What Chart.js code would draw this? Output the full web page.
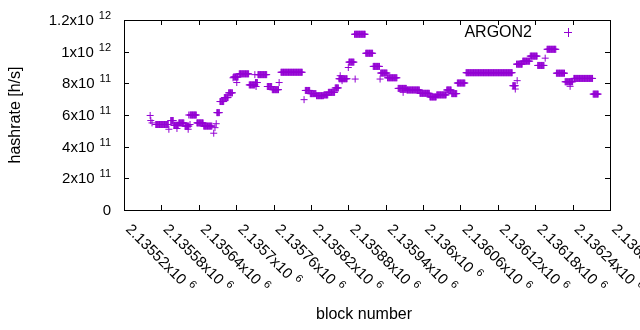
<!DOCTYPE html>
<html>
<head>
<meta charset="utf-8">
<script src="https://cdn.jsdelivr.net/npm/chart.js@4/dist/chart.umd.min.js"></script>
<style>
  html, body { margin: 0; padding: 0; background: #fff; }
  #wrap { width: 640px; height: 330px; }
</style>
</head>
<body>
<div id="wrap"><canvas id="hashChart" width="640" height="330"></canvas></div>
<script>
/* Axis ticks (labels use ^ for the exponent) */
const xTickValues = [2135520, 2135580, 2135640, 2135700, 2135760, 2135820, 2135880,
    2135940, 2136000, 2136060, 2136120, 2136180, 2136240, 2136300];
const xTickLabels = ["2.13552x10^6", "2.13558x10^6", "2.13564x10^6", "2.1357x10^6",
    "2.13576x10^6", "2.13582x10^6", "2.13588x10^6", "2.13594x10^6", "2.136x10^6",
    "2.13606x10^6", "2.13612x10^6", "2.13618x10^6", "2.13624x10^6", "2.1363x10^6"];
const yTickValues = [0, 2e11, 4e11, 6e11, 8e11, 1e12, 1.2e12];
const yTickLabels = ["0", "2x10^11", "4x10^11", "6x10^11", "8x10^11", "1x10^12", "1.2x10^12"];

const runFrom = [2135562, 2135563, 2135565, 2135571, 2135592, 2135595, 2135600, 2135605,
    2135608, 2135618, 2135623, 2135624, 2135626, 2135626, 2135637, 2135648, 2135664,
    2135666, 2135668, 2135669, 2135674, 2135681, 2135688, 2135695, 2135696, 2135701,
    2135705, 2135721, 2135730, 2135731, 2135732, 2135735, 2135750, 2135758, 2135769,
    2135772, 2135809, 2135811, 2135819, 2135829, 2135841, 2135848, 2135859, 2135865,
    2135867, 2135870, 2135880, 2135881, 2135891, 2135890, 2135908, 2135920, 2135931,
    2135932, 2135943, 2135960, 2135968, 2135974, 2135995, 2136011, 2136022, 2136038,
    2136046, 2136055, 2136069, 2136144, 2136148, 2136151, 2136150, 2136160, 2136172,
    2136184, 2136196, 2136199, 2136214, 2136228, 2136236, 2136242, 2136273];
const runTo = [2135562, 2135563, 2135565, 2135591, 2135592, 2135599, 2135607, 2135605,
    2135616, 2135624, 2135623, 2135624, 2135636, 2135626, 2135647, 2135661, 2135664,
    2135666, 2135668, 2135673, 2135680, 2135687, 2135694, 2135695, 2135703, 2135701,
    2135720, 2135730, 2135730, 2135734, 2135732, 2135749, 2135757, 2135768, 2135769,
    2135806, 2135809, 2135818, 2135828, 2135840, 2135847, 2135858, 2135864, 2135878,
    2135867, 2135870, 2135880, 2135889, 2135891, 2135907, 2135919, 2135930, 2135931,
    2135942, 2135958, 2135973, 2135968, 2135994, 2136010, 2136021, 2136037, 2136045,
    2136054, 2136067, 2136143, 2136148, 2136148, 2136151, 2136159, 2136171, 2136183,
    2136194, 2136196, 2136213, 2136227, 2136240, 2136236, 2136272, 2136281];
const runRate = [5.97e11, 5.65e11, 5.5e11, 5.4e11, 5.1e11, 5.65e11, 5.35e11, 5.15e11,
    5.5e11, 5.3e11, 5.1e11, 6.0e11, 6.0e11, 5.4e11, 5.5e11, 5.3e11, 4.85e11,
    5.2e11, 5.45e11, 6.15e11, 6.85e11, 7.1e11, 7.4e11, 8.35e11, 8.4e11, 8.05e11,
    8.6e11, 7.9e11, 8.55e11, 8.05e11, 7.8e11, 8.55e11, 7.8e11, 7.6e11, 8.05e11,
    8.7e11, 6.97e11, 7.55e11, 7.35e11, 7.22e11, 7.27e11, 7.43e11, 7.71e11, 8.29e11,
    8.48e11, 8.17e11, 9.0e11, 9.34e11, 8.27e11, 11.1e11, 9.9e11, 9.07e11, 8.27e11,
    8.65e11, 8.35e11, 7.68e11, 7.43e11, 7.58e11, 7.37e11, 7.14e11, 7.27e11, 7.58e11,
    7.35e11, 8.02e11, 8.67e11, 7.85e11, 7.64e11, 8.17e11, 9.21e11, 9.4e11, 9.72e11,
    9.13e11, 9.59e11, 10.15e11, 8.64e11, 8.1e11, 7.81e11, 8.31e11, 7.32e11];

const seriesName = "ARGON2";
const purple = "#9400d3";
const fontFamily = "'Liberation Sans', Arial, sans-serif";

// one point per block
const points = [];
for (let i = 0; i < runFrom.length; i++) {
    for (let b = runFrom[i]; b <= runTo[i]; b++) {
        points.push({ x: b, y: runRate[i] });
    }
}

/* draw "base^exp" text; (x, y) is baseline start, or baseline end when alignRight */
function drawPowerText(ctx, label, x, y, alignRight) {
    const parts = label.split("^");
    const baseFont = "15px " + fontFamily;
    const supFont = "11px " + fontFamily;
    ctx.font = baseFont;
    const baseW = ctx.measureText(parts[0]).width;
    let supW = 0;
    const gap = parts.length > 1 ? 5 : 0;
    if (parts.length > 1) {
        ctx.font = supFont;
        supW = ctx.measureText(parts[1]).width;
    }
    const startX = alignRight ? x - baseW - gap - supW : x;
    ctx.textAlign = "left";
    ctx.textBaseline = "alphabetic";
    ctx.font = baseFont;
    ctx.fillText(parts[0], startX, y);
    if (parts.length > 1) {
        ctx.font = supFont;
        ctx.fillText(parts[1], startX + baseW + gap, y - 6);
    }
}

/* gnuplot-like frame, inward mirrored ticks, tick labels, titles, key */
const framePlugin = {
    id: "frame",
    afterDraw(chart) {
        const ctx = chart.ctx;
        const area = chart.chartArea;
        const xs = chart.scales.x;
        const ys = chart.scales.y;
        const tl = 5;
        ctx.save();
        ctx.strokeStyle = "#000";
        ctx.lineWidth = 1;
        ctx.strokeRect(Math.round(area.left) + 0.5, Math.round(area.top) + 0.5,
            Math.round(area.right - area.left), Math.round(area.bottom - area.top));

        ctx.beginPath();
        xTickValues.forEach(v => {
            const px = Math.round(xs.getPixelForValue(v)) + 0.5;
            ctx.moveTo(px, area.bottom);
            ctx.lineTo(px, area.bottom - tl);
            ctx.moveTo(px, area.top);
            ctx.lineTo(px, area.top + tl);
        });
        yTickValues.forEach(v => {
            const py = Math.round(ys.getPixelForValue(v)) + 0.5;
            ctx.moveTo(area.left, py);
            ctx.lineTo(area.left + tl, py);
            ctx.moveTo(area.right, py);
            ctx.lineTo(area.right - tl, py);
        });
        ctx.stroke();

        ctx.fillStyle = "#000";
        yTickValues.forEach((v, i) => {
            const py = ys.getPixelForValue(v);
            drawPowerText(ctx, yTickLabels[i], 111, py + 5, true);
        });
        xTickValues.forEach((v, i) => {
            const px = xs.getPixelForValue(v);
            ctx.save();
            ctx.translate(px + 1, 230);
            ctx.rotate(Math.PI / 4);
            drawPowerText(ctx, xTickLabels[i], 0, 0, false);
            ctx.restore();
        });

        // axis titles
        ctx.font = "16px " + fontFamily;
        ctx.textAlign = "center";
        ctx.textBaseline = "middle";
        ctx.fillText("block number", 364, 315);
        ctx.save();
        ctx.translate(16, 115);
        ctx.rotate(-Math.PI / 2);
        ctx.fillText("hashrate [h/s]", 0, 0);
        ctx.restore();

        // key
        ctx.font = "16px " + fontFamily;
        ctx.textAlign = "right";
        ctx.textBaseline = "alphabetic";
        ctx.fillText(seriesName, 532, 37);
        ctx.strokeStyle = purple;
        ctx.beginPath();
        ctx.moveTo(564, 32.5);
        ctx.lineTo(572, 32.5);
        ctx.moveTo(568.5, 28);
        ctx.lineTo(568.5, 37);
        ctx.stroke();
        ctx.restore();
    }
};

const ctx = document.getElementById("hashChart").getContext("2d");
new Chart(ctx, {
    type: "scatter",
    data: {
        datasets: [{
            label: seriesName,
            data: points,
            pointStyle: "cross",
            pointRadius: 3.5,
            pointHoverRadius: 3.5,
            borderColor: purple,
            backgroundColor: purple,
            borderWidth: 1,
            showLine: false
        }]
    },
    options: {
        responsive: false,
        animation: false,
        layout: { padding: { left: 124, right: 30, top: 20, bottom: 120 } },
        plugins: {
            legend: { display: false },
            tooltip: { enabled: false }
        },
        scales: {
            x: { type: "linear", min: 2135520, max: 2136300, display: false },
            y: { type: "linear", min: 0, max: 1.2e12, display: false }
        }
    },
    plugins: [framePlugin]
});
</script>
</body>
</html>
